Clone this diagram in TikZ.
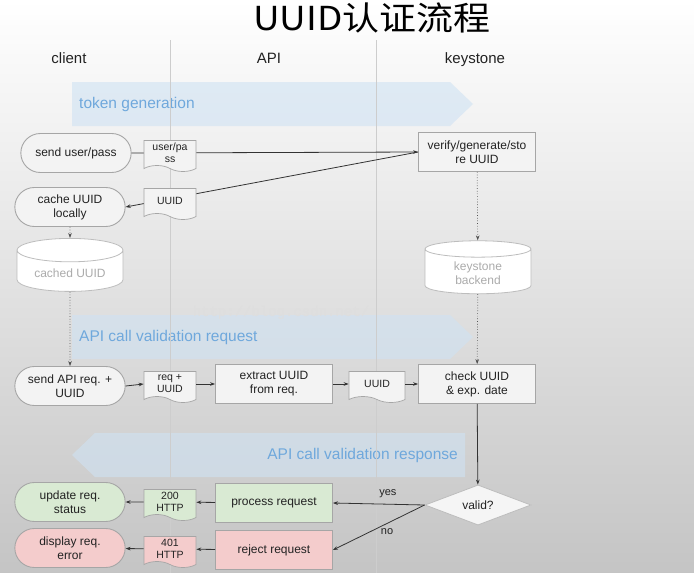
\documentclass[tikz,border=0pt]{standalone}
\usepackage{fontspec}
\setmainfont{Liberation Sans}
\newfontfamily\cjk{Noto Sans CJK SC}
\newfontfamily\wmfont{Liberation Mono}
\usetikzlibrary{shapes.geometric,shapes.misc,shapes.symbols,arrows.meta}
\definecolor{boxgray}{HTML}{F3F3F3}
\definecolor{bordgray}{HTML}{A6A6A6}
\definecolor{okgreen}{HTML}{D9EAD3}
\definecolor{errred}{HTML}{F4CCCC}
\definecolor{bandblue}{HTML}{CFE2F3}
\definecolor{bandtxt}{HTML}{6FA8DC}
\definecolor{lanegray}{HTML}{CDCDCD}
\definecolor{dbgray}{HTML}{BDBDBD}
\definecolor{dbtext}{HTML}{ABABAB}
\definecolor{txt}{HTML}{222222}
\definecolor{linec}{HTML}{333333}

\begin{document}
\begin{tikzpicture}[x=1pt, y=-1pt, >={Stealth[length=5pt,width=3.6pt]},
  proc/.style={draw=bordgray, fill=boxgray, line width=0.8pt, rectangle, minimum width=117pt, minimum height=39pt, align=center, text=txt, font=\fontsize{12}{14}\selectfont},
  term/.style={draw=bordgray, fill=boxgray, line width=0.9pt, rounded rectangle, minimum width=117pt, minimum height=39pt, align=center, text=txt, font=\fontsize{12}{14}\selectfont},
  doc/.style={draw=bordgray, fill=boxgray, line width=0.7pt, tape, tape bend top=none, tape bend bottom=out and in, tape bend height=6pt, minimum width=52pt, minimum height=31pt, inner sep=1pt, align=center, text=txt, font=\fontsize{10.5}{12}\selectfont},
  store/.style={draw=dbgray, fill=white, line width=0.8pt, cylinder, shape border rotate=90, aspect=0.3, minimum width=106pt, minimum height=53pt, align=center, text=dbtext, font=\fontsize{12}{14}\selectfont},
  choice/.style={draw=dbgray, fill=white!96!black, line width=0.8pt, diamond, minimum width=106pt, minimum height=40pt, inner sep=0pt, text=txt, font=\fontsize{12}{14}\selectfont},
  band/.style={fill=bandblue, fill opacity=0.6},
  bandtext/.style={text=bandtxt, inner sep=0pt, font=\fontsize{15.5}{18}\selectfont},
  head/.style={text=txt, anchor=base, font=\fontsize{15}{18}\selectfont},
  lane/.style={draw=lanegray, line width=0.6pt},
  flow/.style={->, draw=linec, line width=0.8pt},
  link/.style={->, draw=linec!85, dotted, line width=0.7pt},
  tag/.style={text=txt, font=\fontsize{11}{13}\selectfont}]
\useasboundingbox (0,0) rectangle (694,573);
% Fundo
\shade[top color=white, middle color=black!5, bottom color=black!23] (0,0) rectangle (694,573);

% Faixas
\fill[band] (72,82) -- (450,82) -- (473,104) -- (450,126) -- (72,126) -- cycle;
\node[bandtext, anchor=west] (tokgen) at (79,104) {token generation};
\fill[band] (72,315) -- (450,315) -- (473,337) -- (450,359) -- (72,359) -- cycle;
\node[bandtext, anchor=west] (apireq) at (79,337) {API call validation request};
\fill[band] (465,433) -- (95,433) -- (72,455) -- (95,477) -- (465,477) -- cycle;
\node[bandtext, anchor=east] (apiresp) at (458,455) {API call validation response};

\draw[lane] (170,40) -- (170,573);
\draw[lane] (376,40) -- (376,573);
\node[text=black!13, font=\wmfont\fontsize{14}{16}\selectfont] (wmark) at (281,313) {http://blog.csdn.net/};

% Titulo e colunas
\node[text=black, anchor=base, xscale=1.12, inner sep=0pt, font=\cjk\fontsize{33}{36}\selectfont] (title) at (372,30) {UUID认证流程};
\node[head] (hclient) at (69,63) {client};
\node[head] (hapi) at (269,63) {API};
\node[head] (hkeys) at (475,63) {keystone};

% Blocos
\node[term] (send) at (76,153) {send user/pass};
\node[proc] (verify) at (477,152) {verify/generate/sto\\re UUID};
\node[term] (cache) at (70,207) {cache UUID\\locally};
\draw[flow] (send.east) -- (verify.west);
\draw[flow] (verify.west) -- (cache.east);
\node[doc] (userpass) at (170,153) {user/pa\\ss};
\node[doc] (uuida) at (170,201) {UUID};

\node[store] (cachedb) at (70,273) {cached UUID};
\node[store] (ksdb) at (478,273) {keystone\\backend};

\node[term] (sendapi) at (70,386) {send API req. +\\UUID};
\node[doc] (requuid) at (170,384) {req +\\UUID};
\node[proc] (extract) at (274,384) {extract UUID\\from req.};
\node[doc, minimum width=56pt] (uuidb) at (377,384) {UUID};
\node[proc] (check) at (477,384) {check UUID\\\& exp. date};

\node[choice] (valid) at (478,505) {valid?};
\node[proc, fill=okgreen] (process) at (274,503) {process request};
\node[doc, fill=okgreen] (okdoc) at (170,502) {200\\HTTP};
\node[term, fill=okgreen] (update) at (70,502) {update req.\\status};
\node[proc, fill=errred] (reject) at (274,550) {reject request};
\node[doc, fill=errred] (errdoc) at (170,549) {401\\HTTP};
\node[term, fill=errred] (display) at (70,548) {display req.\\error};

% Conexoes
\draw[link] (cache) -- (cachedb);
\draw[link] (cachedb) -- (sendapi);
\draw[link] (verify) -- (ksdb);
\draw[link] (ksdb) -- (check);
\draw[flow] (sendapi.east) -- (requuid.west);
\draw[flow] (requuid.east) -- (extract.west);
\draw[flow] (extract.east) -- (uuidb.west);
\draw[flow] (uuidb.east) -- (check.west);
\draw[flow] (check) -- (valid);
\draw[flow] (valid.west) -- node[tag, pos=0.4, above=3pt] {yes} (process.east);
\draw[flow] (valid.west) -- node[tag, pos=0.41, below=1pt] {no} (reject.east);
\draw[flow] (process) -- (okdoc);
\draw[flow] (okdoc) -- (update);
\draw[flow] (reject) -- (errdoc);
\draw[flow] (errdoc) -- (display);
\end{tikzpicture}
\end{document}
